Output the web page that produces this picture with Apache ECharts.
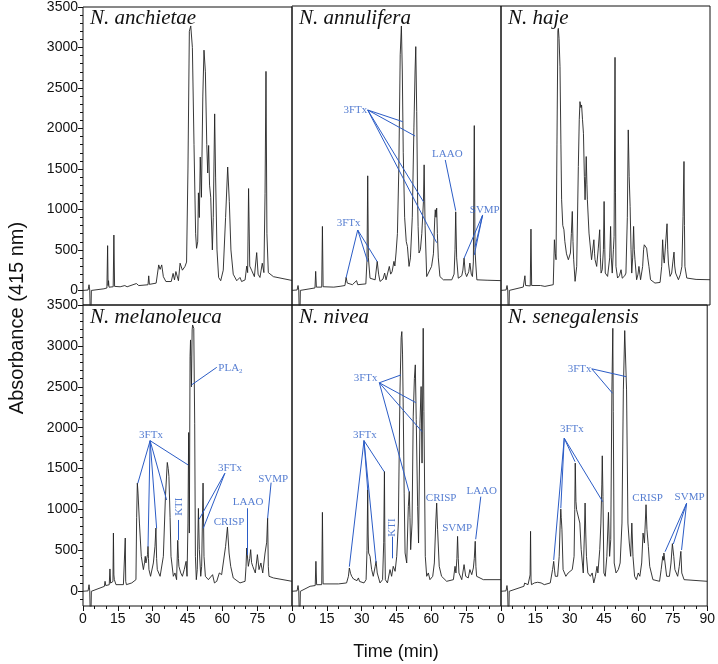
<!DOCTYPE html>
<html><head><meta charset="utf-8">
<script src="https://cdn.jsdelivr.net/npm/echarts@6/dist/echarts.min.js"></script>
<style>html,body{margin:0;padding:0;background:#fff}#c{width:718px;height:664px}</style>
</head><body><div id="c"></div>
<script>
// ---- data: [time (min), absorbance] ----
const anchietae = [[0,0],[2.2,5],[2.6,70],[2.9,5],[3.3,-500],[3.6,0],[4.2,10],[9,20],[10.3,30],[10.6,553],[10.8,60],[11.0,120],[11.2,40],[13.0,45],[13.3,684],[13.6,50],[16,45],[18,60],[19,45],[23,85],[24,60],[28,70],[28.3,180],[28.6,75],[31.5,90],[32.6,315],[33.2,260],[33.9,315],[34.6,170],[35.7,110],[38,110],[38.8,210],[39.4,130],[40.0,233],[41.1,120],[41.8,336],[42.8,250],[43.9,295],[44.6,350],[45.2,1500],[45.8,3200],[46.4,3266],[47.1,3000],[47.8,1800],[48.5,700],[48.9,520],[49.4,600],[49.7,1205],[50.1,900],[50.5,1647],[51.0,1150],[51.6,2400],[52.1,2967],[52.7,2700],[53.3,1800],[53.7,1450],[54.1,1790],[54.5,1300],[55.0,1150],[55.7,500],[56.1,900],[56.7,2180],[57.1,1400],[57.7,500],[58.4,160],[59.3,120],[60.4,250],[61.4,900],[62.3,1524],[63.0,1100],[63.7,500],[64.7,200],[66.2,120],[67.6,160],[68.3,110],[69.8,130],[70.5,300],[70.9,220],[71.3,1258],[71.8,300],[72.6,250],[73.8,170],[74.8,467],[75.4,200],[76.2,160],[77.2,336],[77.9,220],[78.4,1200],[78.8,2705],[79.2,700],[79.8,220],[82,170],[90,123]];
const annulifera = [[0,0],[2.2,5],[2.6,60],[2.9,5],[3.3,-500],[3.6,0],[4.2,5],[9.9,30],[10.2,234],[10.5,40],[12.8,40],[13.1,787],[13.4,45],[18,40],[20.7,50],[22.8,60],[23.3,160],[23.8,90],[26,70],[27.8,120],[28.3,70],[31.8,80],[32.3,377],[32.6,1410],[32.9,400],[33.6,150],[35.8,130],[36.7,357],[37.3,200],[37.9,110],[39.2,140],[39.9,213],[40.5,130],[41.1,150],[41.9,295],[42.5,200],[43.1,230],[43.9,357],[44.3,300],[44.8,460],[45.4,700],[46.0,1500],[46.6,2900],[47.1,3254],[47.5,2700],[47.9,1700],[48.5,900],[49.2,600],[49.7,541],[50.4,295],[51.0,400],[51.8,900],[52.5,2000],[53.0,2700],[53.3,3000],[53.7,2200],[54.1,1100],[54.3,787],[54.7,460],[55.3,500],[55.9,700],[56.6,1094],[56.9,1545],[57.3,800],[58.0,170],[58.7,170],[60.1,295],[60.9,450],[61.5,900],[61.7,992],[62.0,900],[62.3,1012],[62.6,700],[63.0,400],[63.7,170],[65.2,130],[68.8,130],[69.8,200],[70.2,500],[70.5,967],[70.9,400],[71.6,150],[73.1,180],[73.6,250],[74.1,397],[74.6,220],[75.2,170],[76.1,230],[76.6,336],[77.2,200],[77.7,170],[78.1,350],[78.5,2028],[78.8,500],[79.2,300],[79.6,130],[84,125],[90,120]];
const haje = [[0,0],[2.2,5],[2.6,60],[2.9,5],[3.3,-500],[3.6,0],[4.2,10],[9.6,41],[10.0,50],[10.3,180],[10.6,60],[12.6,55],[12.9,754],[13.2,60],[17.0,60],[17.5,70],[18.9,49],[22.5,70],[23.0,623],[23.4,450],[23.7,377],[24.1,1800],[24.5,3200],[24.7,3225],[25.0,3100],[25.4,2754],[25.8,1800],[26.1,1115],[26.6,800],[27.1,746],[27.5,600],[28.2,450],[29.0,377],[29.9,460],[30.3,700],[30.7,971],[31.0,600],[31.3,377],[31.9,111],[32.6,295],[33.3,1524],[33.7,2100],[34.0,2323],[34.4,2250],[34.7,2282],[35.1,2100],[35.5,1934],[35.9,1400],[36.2,1115],[36.5,1400],[36.7,1647],[37.0,1300],[37.2,1115],[37.9,705],[39.0,377],[39.6,400],[40.0,623],[40.3,450],[40.5,377],[41.2,295],[41.9,520],[42.5,746],[42.8,400],[43.1,213],[43.6,254],[44.1,500],[44.4,1094],[44.7,500],[44.9,213],[45.9,172],[46.8,400],[47.2,787],[47.5,400],[47.9,213],[48.4,500],[48.7,664],[49.1,2868],[49.3,1200],[49.5,295],[50.2,152],[51.0,180],[51.7,254],[52.2,150],[52.7,131],[53.3,180],[53.8,213],[54.4,900],[54.8,1975],[55.2,1400],[55.6,1033],[56.0,500],[56.3,213],[56.7,400],[57.1,787],[57.4,500],[57.7,377],[58.4,131],[59.0,200],[59.4,295],[59.8,200],[60.1,131],[61.0,295],[61.4,500],[61.7,561],[62.2,540],[62.7,520],[63.2,400],[63.7,295],[64.4,131],[66.3,90],[68.5,98],[69.2,295],[69.6,623],[70.0,400],[70.3,336],[70.9,582],[71.5,820],[71.8,500],[72.1,336],[72.8,172],[73.5,213],[74.0,350],[74.5,471],[74.8,300],[75.2,213],[76.4,131],[77.2,193],[77.9,295],[78.4,910],[78.8,1586],[79.0,800],[79.2,295],[80.0,152],[84,135],[90,131]];
const melanoleuca = [[0,0],[2.2,5],[2.6,80],[2.9,5],[3.3,-500],[3.6,0],[4.2,15],[9.2,60],[9.5,122],[9.8,70],[10.2,61],[11.3,80],[11.6,273],[11.9,100],[12.3,102],[12.9,120],[13.1,712],[13.3,200],[13.5,142],[14.2,81],[17.4,81],[18.0,100],[18.2,651],[18.4,120],[18.7,81],[21.0,102],[22.8,142],[23.1,900],[23.4,1323],[23.7,1200],[24.3,834],[25.1,427],[26.0,265],[26.5,350],[26.8,427],[27.1,346],[27.4,346],[27.8,450],[28.0,549],[28.2,400],[28.4,265],[29.1,183],[30.3,346],[31.0,550],[31.4,773],[31.7,400],[32.0,265],[33.2,183],[34.6,427],[35.5,1160],[36.3,1575],[36.7,1500],[37.0,1404],[37.5,900],[37.9,427],[38.9,183],[39.6,224],[40.3,142],[40.8,623],[41.1,400],[41.3,305],[42.1,224],[42.8,183],[43.6,265],[44.4,366],[44.8,183],[45.2,834],[45.5,1941],[45.8,712],[46.1,2869],[46.3,3073],[46.7,2500],[47.0,3195],[47.2,3256],[47.7,3215],[48.1,2055],[48.4,427],[48.8,142],[49.2,265],[49.7,1013],[50.1,509],[50.7,183],[51.1,305],[51.7,1323],[52.1,427],[52.7,183],[54.0,142],[55.8,203],[56.6,102],[57.6,122],[58.7,224],[59.7,203],[60.4,183],[61.4,549],[62.2,785],[62.9,468],[63.6,305],[64.7,163],[67.6,102],[69.8,122],[70.2,300],[70.5,529],[71.2,305],[71.8,400],[72.2,509],[72.6,350],[73.1,305],[74.2,224],[75.1,448],[75.8,265],[76.6,346],[77.4,224],[78.4,468],[79.1,600],[79.5,895],[79.8,300],[80.1,183],[82.0,163],[90,122]];
const nivea = [[0,0],[2.2,5],[2.6,70],[2.9,5],[3.3,-500],[3.6,0],[4.2,20],[7.8,61],[10.0,70],[10.3,366],[10.6,80],[10.9,81],[12.8,81],[13.1,965],[13.4,90],[13.5,81],[20,90],[23.5,102],[24.3,183],[24.7,285],[25.2,220],[25.7,183],[26.5,150],[27.1,142],[28.0,130],[28.6,163],[29.1,120],[29.6,142],[31.0,102],[31.9,142],[32.3,500],[32.6,1241],[32.8,700],[33.0,468],[33.6,427],[34.3,265],[35.0,183],[35.8,300],[36.2,366],[36.7,224],[37.9,102],[39.0,142],[39.5,600],[39.8,1465],[40.0,600],[40.2,142],[41.1,102],[42.2,265],[42.9,183],[43.6,305],[44.4,244],[45.1,427],[45.8,834],[46.5,2442],[47.0,3100],[47.3,3175],[47.6,2900],[47.9,2238],[48.3,1200],[48.7,468],[49.4,346],[50.1,1038],[50.5,1221],[50.8,900],[51.1,509],[51.7,834],[52.2,2141],[52.7,2600],[53.1,2768],[53.5,2100],[54.1,1038],[54.5,590],[55.1,2055],[55.6,2503],[56.0,1567],[56.5,3215],[56.8,2200],[57.4,427],[58.0,183],[58.7,224],[59.4,142],[60.6,183],[61.3,346],[61.9,834],[62.3,1078],[62.7,753],[63.4,305],[64.4,183],[66.6,122],[69.5,142],[70.2,305],[70.6,224],[71.0,400],[71.3,671],[71.6,400],[71.9,224],[73.1,142],[74.1,326],[74.8,183],[75.9,163],[76.6,265],[77.4,203],[78.1,285],[78.5,400],[78.9,611],[79.2,300],[79.5,183],[82.4,142],[90,142]];
const senegalensis = [[0,0],[2.2,5],[2.6,70],[2.9,5],[3.3,-500],[3.6,0],[4.2,15],[10.0,61],[10.3,100],[10.6,102],[11.8,81],[12.5,102],[12.7,200],[12.9,733],[13.1,150],[13.3,81],[14.6,102],[16,110],[17.5,102],[18.9,81],[21.5,102],[22.5,265],[23.0,366],[23.4,250],[23.7,183],[24.7,183],[25.4,427],[25.8,800],[26.1,1005],[26.3,900],[26.6,753],[27.1,265],[28.3,183],[29.3,224],[31.1,265],[31.9,427],[32.2,1000],[32.4,1567],[32.7,1100],[33.0,997],[33.3,1000],[33.6,997],[34.4,834],[35.0,509],[35.9,224],[36.4,700],[36.7,1079],[37.0,700],[37.3,427],[37.9,224],[39.0,183],[39.8,224],[40.5,102],[41.2,183],[41.9,305],[42.3,224],[43.1,509],[43.6,834],[44.0,1300],[44.2,1656],[44.5,1160],[44.9,224],[45.5,183],[46.2,427],[46.9,965],[47.4,427],[47.9,631],[48.4,2462],[48.8,3215],[49.0,2200],[49.4,346],[50.2,224],[51.2,265],[52.0,346],[52.8,834],[53.4,2462],[54.0,3187],[54.8,2462],[55.4,834],[56.0,590],[56.6,427],[57.1,834],[57.6,427],[58.3,183],[59.1,142],[59.9,224],[60.6,183],[61.4,346],[62.0,712],[62.6,590],[63.3,1058],[63.7,753],[64.3,549],[64.9,305],[66.3,142],[69.2,122],[69.9,265],[70.6,427],[70.9,380],[71.1,468],[71.6,346],[72.3,183],[73.5,183],[74.2,346],[74.8,582],[75.4,427],[75.9,265],[77.1,183],[77.8,305],[78.5,488],[78.9,224],[79.9,142],[90,122]];

// ---- annotation leaders: [t1, v1, t2, v2] and labels: [text, t, v, rotate] ----
const annuliferaLeaders = [[32.6,2220,47.7,2076],[32.6,2220,53.0,1900],[32.6,2220,56.6,1091],[32.6,2220,62.3,587],[28.3,743,23.3,156],[28.3,743,32.6,353],[28.3,743,36.7,353],[66.0,1605,70.5,981],[82.1,928,74.1,395],[82.1,928,78.5,436],[82.1,928,78.8,538]];
const annuliferaLabels = [['3FTx',27.3,2216,0],['3FTx',24.4,833,0],['LAAO',66.9,1676,0],['SVMP',83.0,989,0]];
const melanoleucaLeaders = [[57.6,2738,46.7,2522],[28.9,1841,23.6,1320],[28.9,1841,28.0,545],[28.9,1841,31.7,770],[28.9,1841,36.0,1116],[28.9,1841,45.3,1544],[41.1,872,41.1,627],[61.1,1443,50.0,880],[61.1,1443,51.8,770],[70.8,1015,70.8,444],[81.0,1328,79.5,892]];
const melanoleucaLabels = [['PLA2',63.5,2723,0],['3FTx',29.3,1905,0],['KTI',41.3,1034,90],['3FTx',63.3,1504,0],['CRISP',62.9,841,0],['LAAO',71.1,1086,0],['SVMP',81.9,1375,0]];
const niveaLeaders = [[37.6,2549,46.9,2645],[37.6,2549,53.3,2307],[37.6,2549,56.0,1952],[37.6,2549,50.4,1218],[31.0,1842,24.7,301],[31.0,1842,32.6,1238],[31.0,1842,36.2,350],[31.0,1842,39.7,1462],[43.2,668,43.2,403],[81.3,1157,79.1,636]];
const niveaLabels = [['3FTx',31.7,2603,0],['3FTx',31.4,1905,0],['KTI',43.1,780,90],['CRISP',64.2,1137,0],['SVMP',71.1,770,0],['LAAO',81.7,1229,0]];
const senegalensisLeaders = [[39.6,2720,48.7,2420],[39.6,2720,54.6,2624],[27.6,1871,23.0,383],[27.6,1871,26.1,1015],[27.6,1871,32.3,1584],[27.6,1871,44.4,1095],[81.0,1076,71.6,484],[81.0,1076,75.2,578],[81.0,1076,78.8,505]];
const senegalensisLabels = [['3FTx',34.3,2721,0],['3FTx',30.9,1982,0],['CRISP',64.0,1137,0],['SVMP',82.3,1148,0]];

const panelTitles = ['N. anchietae','N. annulifera','N. haje','N. melanoleuca','N. nivea','N. senegalensis'];
const xTicks = [0,15,30,45,60,75,90];
const yTicks = [0,500,1000,1500,2000,2500,3000,3500];
const yMinorTicks = [-100,0,100,200,300,400,500,600,700,800,900,1000,1100,1200,1300,1400,1500,1600,1700,1800,1900,2000,2100,2200,2300,2400,2500,2600,2700,2800,2900,3000,3100,3200,3300,3400,3500];

// ---- layout ----
const LEFTS = [83,292,501], WIDTH = 209, TOPS = [6,305], HEIGHTS = [299,301];
const BLUE = '#2b5cc6', INK = '#111';
const traces = [anchietae, annulifera, haje, melanoleuca, nivea, senegalensis];
const leaders = [[], annuliferaLeaders, [], melanoleucaLeaders, niveaLeaders, senegalensisLeaders];
const labels = [[], annuliferaLabels, [], melanoleucaLabels, niveaLabels, senegalensisLabels];

const grid = [], xAxis = [], yAxis = [], series = [], title = [];
for (let i = 0; i < 6; i++) {
  const row = Math.floor(i / 3), col = i % 3;
  const bottom = row === 1, leftCol = col === 0;
  grid.push({left: LEFTS[col], top: TOPS[row], width: WIDTH, height: HEIGHTS[row], show: true, borderColor: INK, borderWidth: 1, backgroundColor: 'transparent'});
  xAxis.push({gridIndex: i, type: 'value', min: 0, max: 90, interval: 15, position: 'bottom',
    axisLine: {show: false, onZero: false}, splitLine: {show: false},
    axisTick: {show: bottom, length: 5, inside: false, lineStyle: {color: INK}},
    minorTick: {show: bottom, splitNumber: 3, length: 3, lineStyle: {color: INK}},
    axisLabel: {show: bottom, margin: 6, fontSize: 14, fontFamily: 'Liberation Sans', color: INK,
      customValues: xTicks,
      formatter: v => (v === 90 && col < 2) ? '' : String(v)}});
  yAxis.push({gridIndex: i, type: 'value', min: -180, max: 3500, position: 'left', offset: 0,
    axisLine: {show: false, onZero: false}, splitLine: {show: false},
    axisTick: {show: leftCol, length: 5, inside: false, customValues: yTicks, lineStyle: {color: INK}},
    axisLabel: {show: leftCol, customValues: yTicks, margin: 5, fontSize: 14, fontFamily: 'Liberation Sans', color: INK,
      formatter: v => String(v)}});
  yAxis.push({gridIndex: i, type: 'value', min: -180, max: 3500, position: 'left', offset: 0,
    axisLine: {show: false, onZero: false}, splitLine: {show: false}, axisLabel: {show: false},
    axisTick: {show: leftCol, length: 3, inside: false, customValues: yMinorTicks, lineStyle: {color: INK}}});
  title.push({text: panelTitles[i], left: LEFTS[col] + 7, top: TOPS[row] + 2, padding: 0,
    textStyle: {fontFamily: 'Liberation Serif', fontStyle: 'italic', fontWeight: 'normal', fontSize: 21, color: INK}});
  series.push({type: 'line', xAxisIndex: i, yAxisIndex: 2 * i, data: traces[i], showSymbol: false, symbol: 'none',
    lineStyle: {color: '#222', width: 0.9}, animation: false, clip: true, z: 2});
  if (leaders[i].length) {
    series.push({type: 'lines', coordinateSystem: 'cartesian2d', xAxisIndex: i, yAxisIndex: 2 * i,
      data: leaders[i].map(d => ({coords: [[d[0], d[1]], [d[2], d[3]]]})),
      lineStyle: {color: BLUE, width: 1, opacity: 1}, animation: false, z: 3});
    series.push({type: 'scatter', xAxisIndex: i, yAxisIndex: 2 * i, symbolSize: 0, animation: false, z: 4,
      data: labels[i].map(d => ({value: [d[1], d[2]], name: d[0], label: {rotate: d[3]}})),
      label: {show: true, position: 'inside', color: BLUE, fontFamily: 'Liberation Serif', fontSize: 11,
        formatter: p => p.name === 'PLA2' ? 'PLA{s|2}' : p.name,
        rich: {s: {fontSize: 7, color: BLUE, fontFamily: 'Liberation Serif', padding: [6, 0, 0, 0]}}}});
  }
}

const chart = echarts.init(document.getElementById('c'), null, {renderer: 'canvas'});
chart.setOption({
  animation: false, backgroundColor: '#fff',
  title, grid, xAxis, yAxis, series,
  graphic: [
    {type: 'text', x: 17, y: 318, rotation: Math.PI / 2,
      style: {text: 'Absorbance (415 nm)', font: '20px "Liberation Sans"', fill: INK, textAlign: 'center', textVerticalAlign: 'middle'}},
    {type: 'text', x: 396, y: 652,
      style: {text: 'Time (min)', font: '18px "Liberation Sans"', fill: INK, textAlign: 'center', textVerticalAlign: 'middle'}}
  ]
});
</script></body></html>
